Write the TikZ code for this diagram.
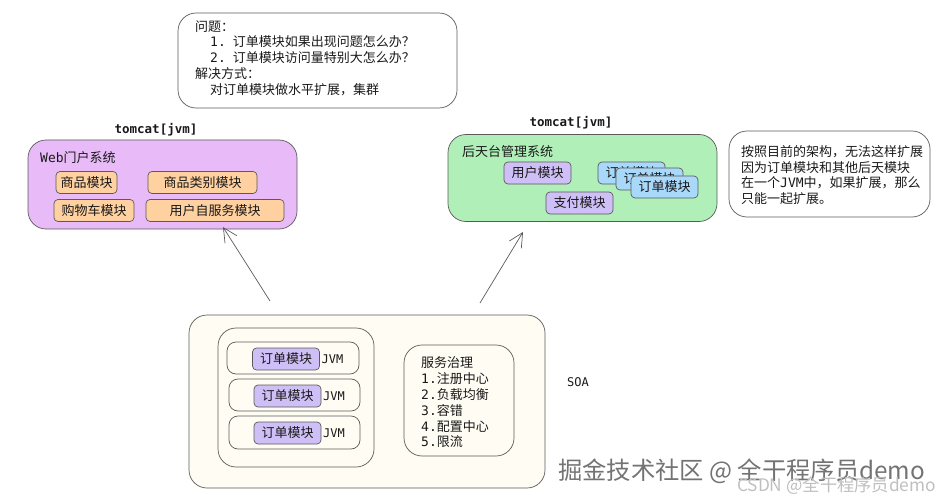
\documentclass[tikz,border=0pt]{standalone}
\usepackage{fontspec}
\setmainfont{Noto Sans CJK SC}
\newfontfamily\monofam{DejaVu Sans Mono}
\newcommand{\mono}[1]{{\monofam #1}}
\usepackage{xcolor}
\usetikzlibrary{arrows.meta}
\definecolor{webfill}{HTML}{E8BBF8}
\definecolor{mgrfill}{HTML}{B0F0B8}
\definecolor{orangefill}{HTML}{FFD0A0}
\definecolor{purplefill}{HTML}{CFBFF7}
\definecolor{bluefill}{HTML}{A8D8FA}
\definecolor{soafill}{HTML}{FFFDF3}
\definecolor{linegray}{HTML}{5A5A5A}
\tikzset{
    panel/.style={draw=linegray, line width=0.7pt, rounded corners=18pt, inner sep=0pt, outer sep=0pt},
    module/.style={draw=linegray, line width=0.7pt, rounded corners=4pt, inner sep=0pt, outer sep=0pt, minimum height=22pt, font=\fontsize{13}{15}\selectfont, text=black!90},
    caption/.style={anchor=west, inner sep=0pt, align=left, font=\fontsize{13}{15.8}\selectfont, text=black!90},
    monocaption/.style={inner sep=0pt, font=\monofam\fontsize{12}{14}\selectfont, text=black!90},
    jvmcaption/.style={inner sep=0pt, font=\monofam\bfseries\fontsize{12.5}{14}\selectfont, text=black!90},
    bigarrow/.style={draw=linegray, line width=0.7pt, -{Straight Barb[length=14pt, width=14pt]}}
}
\begin{document}
\begin{tikzpicture}[x=1pt, y=-1pt]
        \useasboundingbox (0, 0) rectangle (940, 500);
        % Question box
        \node [panel, minimum width=279pt, minimum height=95pt] (question) at (317.5, 60.5) {};
        \node [caption] (questiontext) at (195, 58) {问题：\\
            \hspace*{15pt}\mono{1.}\hspace*{7pt}订单模块如果出现问题怎么办？\\
            \hspace*{15pt}\mono{2.}\hspace*{7pt}订单模块访问量特别大怎么办？\\
            解决方式：\\
            \hspace*{15pt}对订单模块做水平扩展，集群};
        % Web system
        \node [jvmcaption] (webjvm) at (156, 130) {tomcat[jvm]};
        \node [panel, fill=webfill, minimum width=269pt, minimum height=89pt] (web) at (162.5, 184.5) {};
        \node [caption] (webtitle) at (40, 158) {\mono{Web}门户系统};
        \node [module, fill=orangefill, minimum width=61pt] (goods) at (86.5, 182.5) {商品模块};
        \node [module, fill=orangefill, minimum width=109pt] (category) at (202.5, 182.5) {商品类别模块};
        \node [module, fill=orangefill, minimum width=80pt] (cart) at (94, 210.5) {购物车模块};
        \node [module, fill=orangefill, minimum width=138pt] (selfservice) at (215, 210.5) {用户自服务模块};
        % Admin system
        \node [jvmcaption] (mgrjvm) at (571, 123) {tomcat[jvm]};
        \node [panel, fill=mgrfill, minimum width=269pt, minimum height=87pt] (mgr) at (582.5, 178) {};
        \node [caption] (mgrtitle) at (462, 152) {后天台管理系统};
        \node [module, fill=purplefill, minimum width=67pt] (user) at (537.5, 173) {用户模块};
        \node [module, fill=purplefill, minimum width=67pt] (pay) at (579.5, 203) {支付模块};
        \node [module, fill=bluefill, minimum width=67pt] (orderA) at (631.5, 173) {订单模块};
        \node [module, fill=bluefill, minimum width=67pt] (orderB) at (649.5, 179) {订单模块};
        \node [module, fill=bluefill, minimum width=67pt] (orderC) at (664.5, 187) {订单模块};
        % Note
        \node [panel, minimum width=201pt, minimum height=86pt] (note) at (829.5, 174) {};
        \node [caption] (notetext) at (741, 175) {按照目前的架构，无法这样扩展\\
            因为订单模块和其他后天模块\\
            在一个\mono{JVM}中，如果扩展，那么\\
            只能一起扩展。};
        % SOA
        \node [panel, fill=soafill, minimum width=356pt, minimum height=173pt] (soa) at (367, 401.5) {};
        \node [panel, minimum width=156pt, minimum height=139pt] (cluster) at (296, 397.5) {};
        \node [panel, rounded corners=9pt, minimum width=132pt, minimum height=32pt] (rowA) at (293, 358) {};
        \node [panel, rounded corners=9pt, minimum width=131pt, minimum height=32pt] (rowB) at (294.5, 395) {};
        \node [panel, rounded corners=9pt, minimum width=131pt, minimum height=33pt] (rowC) at (294.5, 432.5) {};
        \foreach \name/\x/\y in {A/286/359, B/287.5/396, C/287.5/433} {
            \node [module, fill=purplefill, minimum width=67pt] (mod\name) at (\x, \y) {订单模块};
            \node [monocaption, anchor=west] (jvm\name) at (\x+35.5, \y) {JVM};
        }
        \node [panel, minimum width=110pt, minimum height=111pt] (govern) at (459, 400.5) {};
        \node [caption] (governtext) at (421, 402.5) {服务治理\\
            \mono{1.}注册中心\\
            \mono{2.}负载均衡\\
            \mono{3.}容错\\
            \mono{4.}配置中心\\
            \mono{5.}限流};
        \node [monocaption] (soalabel) at (578, 382) {SOA};
        % Arrows
        \coordinate (webstart) at (270, 301);
        \coordinate (webtip) at (223, 227);
        \coordinate (mgrstart) at (480, 303);
        \coordinate (mgrtip) at (523, 232);
        \draw [bigarrow] (webstart) -- (webtip);
        \draw [bigarrow] (mgrstart) -- (mgrtip);
        % Watermarks
        \node [caption, text=white, font=\fontsize{24.3}{26}\selectfont] (markshadow) at (559, 472) {掘金技术社区 @ 全干程序员demo};
        \node [caption, text=black!55, font=\fontsize{24.3}{26}\selectfont] (mark) at (558, 471) {掘金技术社区 @ 全干程序员demo};
        \node [caption, text=black!25, font=\fontsize{17.3}{19}\selectfont] (csdn) at (737, 486) {CSDN @全干程序员demo};
    \end{tikzpicture}
\end{document}
